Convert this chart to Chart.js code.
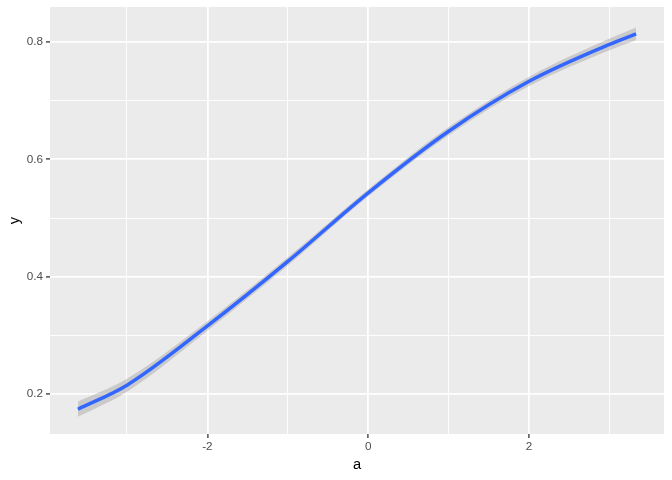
<!DOCTYPE html>
<html>
<head>
<meta charset="utf-8">
<script src="https://cdn.jsdelivr.net/npm/chart.js@4.4.0/dist/chart.umd.min.js"></script>
<style>
  html, body { margin: 0; padding: 0; background: #ffffff; }
  #box { width: 672px; height: 480px; }
</style>
</head>
<body>
<div id="box"><canvas id="grafico"></canvas></div>
<script>
// values
var aValues = [-3.61, -3, -2, -1, 0, 1, 2, 3, 3.33];
var fitValues = [0.174, 0.215, 0.316, 0.426, 0.543, 0.648, 0.733, 0.796, 0.814];
var upperValues = [0.187, 0.226, 0.324, 0.433, 0.549, 0.655, 0.741, 0.806, 0.825];
var lowerValues = [0.161, 0.204, 0.308, 0.419, 0.537, 0.641, 0.725, 0.786, 0.803];
var xTicks = [-2, 0, 2];
var yTicks = [0.2, 0.4, 0.6, 0.8];

function pontos(ys) {
  return aValues.map(function(a, i) { return { x: a, y: ys[i] }; });
}

function isMajor(list, v) {
  return list.some(function(t) { return Math.abs(t - v) < 1e-6; });
}

// panel background (grey like ggplot)
var painel = {
  id: 'painel',
  beforeDraw: function(chart) {
    var c = chart.ctx, area = chart.chartArea;
    c.save();
    c.fillStyle = '#EBEBEB';
    c.fillRect(area.left, area.top, area.right - area.left, area.bottom - area.top);
    c.restore();
  }
};

var ctx = document.getElementById('grafico').getContext('2d');
var chart = new Chart(ctx, {
  type: 'line',
  data: {
    datasets: [
      {
        data: pontos(fitValues),
        borderColor: '#3366FF',
        borderWidth: 3.5,
        pointRadius: 0,
        fill: false,
        cubicInterpolationMode: 'monotone'
      },
      {
        data: pontos(upperValues),
        borderWidth: 0,
        borderColor: 'rgba(0,0,0,0)',
        backgroundColor: 'rgba(153,153,153,0.4)',
        pointRadius: 0,
        fill: '+1',
        cubicInterpolationMode: 'monotone'
      },
      {
        data: pontos(lowerValues),
        borderWidth: 0,
        borderColor: 'rgba(0,0,0,0)',
        pointRadius: 0,
        fill: false,
        cubicInterpolationMode: 'monotone'
      }
    ]
  },
  options: {
    responsive: true,
    maintainAspectRatio: false,
    animation: false,
    layout: { padding: { top: 7, right: 8, left: 0, bottom: 0 } },
    plugins: {
      legend: { display: false },
      tooltip: { enabled: false }
    },
    scales: {
      x: {
        type: 'linear',
        min: -3.957,
        max: 3.677,
        afterFit: function(s) { s.height = 46; s.paddingLeft = 0; s.paddingRight = 0; },
        border: { display: false },
        grid: {
          color: '#FFFFFF',
          lineWidth: function(c) { return isMajor(xTicks, c.tick.value) ? 1.8 : 0.9; },
          tickColor: function(c) { return isMajor(xTicks, c.tick.value) ? '#333333' : 'rgba(0,0,0,0)'; },
          tickLength: 4,
          tickWidth: 1.3
        },
        ticks: {
          stepSize: 1,
          includeBounds: false,
          autoSkip: false,
          maxRotation: 0,
          padding: 2,
          color: '#4D4D4D',
          font: { family: 'Liberation Sans', size: 11.7 },
          callback: function(v) { return isMajor(xTicks, v) ? String(v) : ''; }
        },
        title: {
          display: true,
          text: 'a',
          color: '#000000',
          font: { family: 'Liberation Sans', size: 14.7 },
          padding: { top: 0, bottom: 6 }
        }
      },
      y: {
        type: 'linear',
        min: 0.1318,
        max: 0.8597,
        afterFit: function(s) { s.width = 50; s.paddingTop = 0; s.paddingBottom = 0; },
        border: { display: false },
        grid: {
          color: '#FFFFFF',
          lineWidth: function(c) { return isMajor(yTicks, c.tick.value) ? 1.8 : 0.9; },
          tickColor: function(c) { return isMajor(yTicks, c.tick.value) ? '#333333' : 'rgba(0,0,0,0)'; },
          tickLength: 4,
          tickWidth: 1.3
        },
        ticks: {
          stepSize: 0.1,
          includeBounds: false,
          autoSkip: false,
          padding: 3,
          color: '#4D4D4D',
          font: { family: 'Liberation Sans', size: 11.7 },
          callback: function(v) { return isMajor(yTicks, v) ? v.toFixed(1) : ''; }
        },
        title: {
          display: true,
          text: 'y',
          color: '#000000',
          font: { family: 'Liberation Sans', size: 14.7 },
          padding: { top: 6, bottom: 0 }
        }
      }
    }
  },
  plugins: [painel]
});
</script>
</body>
</html>
